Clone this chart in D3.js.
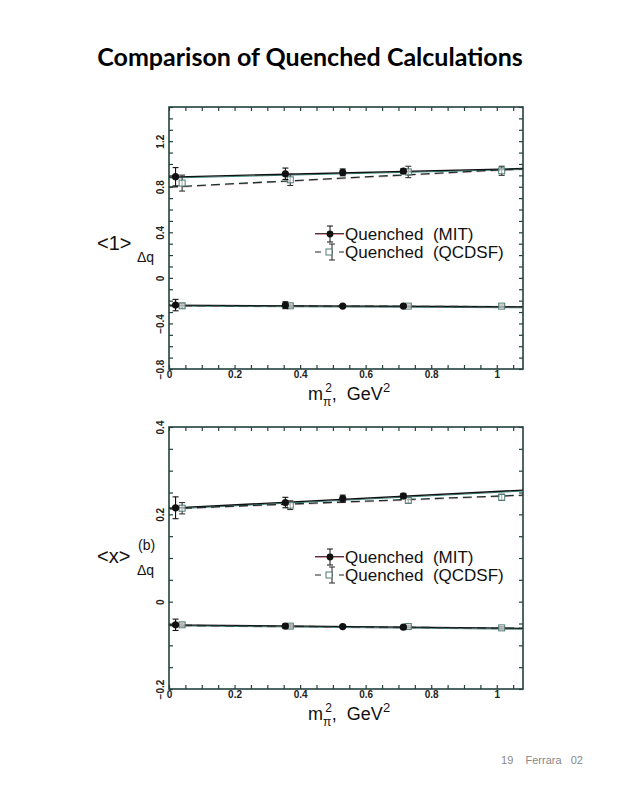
<!DOCTYPE html>
<html>
<head>
<meta charset="utf-8">
<script src="https://cdn.jsdelivr.net/npm/d3@7"></script>
<style>
    body { margin: 0; background: #fff; }
    svg text { font-family: "Liberation Sans", Arial, sans-serif; }
</style>
</head>
<body>
<div id="page"></div>
<script>

// pion mass squared (GeV^2) of the lattice points
const massSqMIT = [0.02, 0.355, 0.53, 0.715];
const massSqQCDSF = [0.04, 0.37, 0.73, 1.015];
const fitX = [0, 1.08];

// <1>_Δq  (upper: u quark, lower: d quark)
const oneMitUpper = [0.888, 0.914, 0.926, 0.937];
const oneMitUpperErr = [0.08, 0.05, 0.03, 0.02];
const oneQcdsfUpper = [0.832, 0.861, 0.930, 0.940];
const oneQcdsfUpperErr = [0.07, 0.05, 0.05, 0.04];
const oneMitLower = [-0.239, -0.240, -0.248, -0.248];
const oneMitLowerErr = [0.05, 0.03, 0.01, 0.01];
const oneQcdsfLower = [-0.245, -0.245, -0.248, -0.248];
const oneQcdsfLowerErr = [0.02, 0.015, 0.01, 0.01];
const oneMitUpperFit = [0.885, 0.960];
const oneQcdsfUpperFit = [0.797, 0.958];
const oneMitLowerFit = [-0.240, -0.254];
const oneQcdsfLowerFit = [-0.243, -0.253];

// <x>_Δq^(b)
const xMitUpper = [0.215, 0.227, 0.236, 0.242];
const xMitUpperErr = [0.025, 0.012, 0.008, 0.006];
const xQcdsfUpper = [0.214, 0.221, 0.232, 0.239];
const xQcdsfUpperErr = [0.013, 0.010, 0.006, 0.007];
const xMitLower = [-0.053, -0.056, -0.057, -0.0585];
const xMitLowerErr = [0.013, 0.005, 0.003, 0.003];
const xQcdsfLower = [-0.053, -0.056, -0.057, -0.060];
const xQcdsfLowerErr = [0.004, 0.004, 0.003, 0.003];
const xMitUpperFit = [0.214, 0.2555];
const xQcdsfUpperFit = [0.213, 0.244];
const xMitLowerFit = [-0.053, -0.061];
const xQcdsfLowerFit = [-0.054, -0.061];

// axis ticks
const xTicks = d3.range(0, 1.0801, 0.05);
const xTickLabels = [0, 0.2, 0.4, 0.6, 0.8, 1];
const oneYTicks = d3.range(-0.8, 1.501, 0.1);
const oneYTickLabels = [-0.8, -0.4, 0, 0.4, 0.8, 1.2];
const xYTicks = d3.range(-0.2, 0.4001, 0.05);
const xYTickLabels = [-0.2, 0, 0.2, 0.4];

const legendLabels = ["Quenched  (MIT)", "Quenched  (QCDSF)"];

const frameColor = "#24423e";
const teal = "#3f8a80";
const red = "#c0505e";

let svg = d3.select("#page").append("svg")
    .attr("width", 619)
    .attr("height", 800);

// title + footer
svg.append("text")
    .attr("x", 310).attr("y", 66)
    .attr("text-anchor", "middle")
    .style("font-family", "Lato, 'Open Sans', sans-serif")
    .style("font-weight", "bold")
    .style("font-size", "25px")
    .text("Comparison of Quenched Calculations");

svg.append("text")
    .attr("x", 583).attr("y", 764)
    .attr("text-anchor", "end")
    .style("font-size", "11px")
    .style("fill", "#888")
    .attr("xml:space", "preserve")
    .text("19    Ferrara   02");


class PanelVis {

    constructor(svg, cfg){
        this.svg = svg;
        this.cfg = cfg;
        this.initVis();
    }

    initVis(){
        let vis = this;
        let c = vis.cfg;

        vis.left = 169; vis.right = 523;
        vis.top = c.top; vis.bottom = c.top + 262;

        vis.x = d3.scaleLinear().domain([0, 1.08]).range([vis.left, vis.right]);
        vis.y = d3.scaleLinear().domain(c.yDomain).range([vis.bottom, vis.top]);

        vis.g = vis.svg.append("g");

        let fmt = d3.format("~g");
        let labelX = d => xTickLabels.some(v => Math.abs(v - d) < 1e-6) ? fmt(d) : "";
        let labelY = d => c.yLabels.some(v => Math.abs(v - d) < 1e-6) ? fmt(+d.toFixed(3)).replace("-", "\u2212") : "";

        // bottom axis with labels
        let bx = vis.g.append("g")
            .attr("transform", `translate(0, ${vis.bottom})`)
            .call(d3.axisBottom(vis.x).tickValues(xTicks).tickSizeInner(-4).tickSizeOuter(0).tickPadding(2).tickFormat(labelX));
        bx.selectAll("text").style("font-size", "10px").style("font-weight", "bold").attr("fill", "#222");

        vis.g.append("g")
            .attr("transform", `translate(0, ${vis.top})`)
            .call(d3.axisTop(vis.x).tickValues(xTicks).tickSizeInner(-4).tickSizeOuter(0).tickFormat(""));

        let ly = vis.g.append("g")
            .attr("transform", `translate(${vis.left}, 0)`)
            .call(d3.axisLeft(vis.y).tickValues(c.yTicks).tickSizeInner(-4).tickSizeOuter(0).tickFormat(labelY));
        ly.selectAll("text")
            .attr("transform", "rotate(-90)")
            .attr("x", 0).attr("y", -5).attr("dy", 0)
            .attr("text-anchor", "middle")
            .style("font-size", "10px").style("font-weight", "bold").attr("fill", "#222");

        vis.g.append("g")
            .attr("transform", `translate(${vis.right}, 0)`)
            .call(d3.axisRight(vis.y).tickValues(c.yTicks).tickSizeInner(-4).tickSizeOuter(0).tickFormat(""));

        vis.g.selectAll(".domain").remove();
        vis.g.selectAll(".tick line").attr("stroke", frameColor).attr("stroke-width", 1.2);

        // frame
        vis.g.append("rect")
            .attr("x", vis.left).attr("y", vis.top)
            .attr("width", vis.right - vis.left).attr("height", vis.bottom - vis.top)
            .attr("fill", "none").attr("stroke", frameColor).attr("stroke-width", 1.6);

        // x title
        let xt = vis.g.append("text")
            .attr("x", 349).attr("y", vis.bottom + 31)
            .attr("text-anchor", "middle")
            .attr("xml:space", "preserve")
            .style("font-size", "18px").attr("fill", "#111");
        xt.append("tspan").text("m");
        xt.append("tspan").attr("dy", 6).style("font-size", "12px").text("\u03c0");
        xt.append("tspan").attr("dy", -14).attr("dx", -6).style("font-size", "12px").text("2");
        xt.append("tspan").attr("dy", 8).text(",  GeV");
        xt.append("tspan").attr("dy", -8).style("font-size", "13px").text("2");

        // y title
        vis.g.append("text")
            .attr("x", 97).attr("y", c.yTitleY)
            .style("font-size", "20px").attr("fill", "#111")
            .text(c.yTitle);
        if (c.yTitleSup) {
            vis.g.append("text").attr("x", 138).attr("y", c.yTitleY - 13)
                .style("font-size", "14px").attr("fill", "#111").text(c.yTitleSup);
        }
        vis.g.append("text").attr("x", 137).attr("y", c.yTitleY + 12)
            .style("font-size", "14px").attr("fill", "#111").text("\u0394q");

        vis.wrangleData();
    }

    wrangleData(){
        let vis = this;
        let c = vis.cfg;

        let toPts = (xs, ys, es) => xs.map((d, i) => ({x: d, y: ys[i], e: es[i]}));

        vis.mitPts = toPts(massSqMIT, c.mitUpper, c.mitUpperErr).concat(toPts(massSqMIT, c.mitLower, c.mitLowerErr));
        vis.qcdsfPts = toPts(massSqQCDSF, c.qcdsfUpper, c.qcdsfUpperErr).concat(toPts(massSqQCDSF, c.qcdsfLower, c.qcdsfLowerErr));

        let toLine = ys => fitX.map((d, i) => ({x: d, y: ys[i]}));
        vis.mitFits = [toLine(c.mitUpperFit), toLine(c.mitLowerFit)];
        vis.qcdsfFits = [toLine(c.qcdsfUpperFit), toLine(c.qcdsfLowerFit)];

        vis.updateVis();
    }

    updateVis(){
        let vis = this;
        let line = d3.line().x(d => vis.x(d.x)).y(d => vis.y(d.y));

        // fits: coloured underlay, black on top
        vis.g.selectAll(".mit-under").data(vis.mitFits).enter().append("path")
            .attr("d", line).attr("transform", "translate(0,1)")
            .attr("fill", "none").attr("stroke", teal).attr("stroke-width", 1);
        vis.g.selectAll(".mit-fit").data(vis.mitFits).enter().append("path")
            .attr("d", line).attr("fill", "none").attr("stroke", "#111").attr("stroke-width", 1.3);
        vis.g.selectAll(".qcdsf-under").data(vis.qcdsfFits).enter().append("path")
            .attr("d", line).attr("transform", "translate(0,0.8)")
            .attr("fill", "none").attr("stroke", red).attr("stroke-opacity", 0.5).attr("stroke-width", 0.8)
            .attr("stroke-dasharray", "9,5");
        vis.g.selectAll(".qcdsf-fit").data(vis.qcdsfFits).enter().append("path")
            .attr("d", line).attr("fill", "none").attr("stroke", "#18302d")
            .attr("stroke-width", 1.3).attr("stroke-dasharray", "9,5");

        vis.drawErr(vis.qcdsfPts, "#333");
        vis.g.selectAll(".sq").data(vis.qcdsfPts).enter().append("rect")
            .attr("x", d => vis.x(d.x) - 3).attr("y", d => vis.y(d.y) - 3)
            .attr("width", 6).attr("height", 6)
            .attr("fill", "#fff").attr("fill-opacity", 0.6).attr("stroke", "#4f7a74").attr("stroke-width", 1);

        vis.drawErr(vis.mitPts, "#111");
        vis.g.selectAll(".dot").data(vis.mitPts).enter().append("circle")
            .attr("cx", d => vis.x(d.x)).attr("cy", d => vis.y(d.y))
            .attr("r", 3.6).attr("fill", "#111");

        // legend
        let lx = 314, ly = vis.cfg.legendY;
        let lg = vis.g.append("g");
        lg.append("line").attr("x1", lx + 1).attr("x2", lx + 30).attr("y1", ly).attr("y2", ly)
            .attr("stroke", red).attr("stroke-width", 1.2);
        lg.append("line").attr("x1", lx + 1).attr("x2", lx + 30).attr("y1", ly - 0.5).attr("y2", ly - 0.5)
            .attr("stroke", "#222").attr("stroke-width", 0.8);
        lg.append("line").attr("x1", lx + 16).attr("x2", lx + 16).attr("y1", ly - 8).attr("y2", ly + 8).attr("stroke", "#111");
        lg.append("line").attr("x1", lx + 13).attr("x2", lx + 19).attr("y1", ly - 8).attr("y2", ly - 8).attr("stroke", "#111");
        lg.append("line").attr("x1", lx + 13).attr("x2", lx + 19).attr("y1", ly + 8).attr("y2", ly + 8).attr("stroke", "#111");
        lg.append("circle").attr("cx", lx + 16).attr("cy", ly).attr("r", 3.4).attr("fill", "#111");

        let ly2 = ly + 18;
        lg.append("line").attr("x1", lx + 1).attr("x2", lx + 30).attr("y1", ly2).attr("y2", ly2)
            .attr("stroke", "#222").attr("stroke-width", 1.2).attr("stroke-dasharray", "6,6");
        lg.append("line").attr("x1", lx + 18).attr("x2", lx + 18).attr("y1", ly2 - 8).attr("y2", ly2 + 8).attr("stroke", "#222");
        lg.append("line").attr("x1", lx + 15).attr("x2", lx + 21).attr("y1", ly2 - 8).attr("y2", ly2 - 8).attr("stroke", "#222");
        lg.append("line").attr("x1", lx + 15).attr("x2", lx + 21).attr("y1", ly2 + 8).attr("y2", ly2 + 8).attr("stroke", "#222");
        lg.append("rect").attr("x", lx + 12).attr("y", ly2 - 3).attr("width", 6).attr("height", 6)
            .attr("fill", "#fff").attr("stroke", "#4f7a74");

        lg.selectAll(".ltext").data(legendLabels).enter().append("text")
            .attr("x", lx + 31).attr("y", (d, i) => ly + 6 + i * 18)
            .attr("xml:space", "preserve")
            .style("font-size", "17px").attr("fill", "#111")
            .text(d => d);
    }

    drawErr(pts, col){
        let vis = this;
        let eg = vis.g.append("g").attr("stroke", col).attr("stroke-width", 1.1);
        pts.forEach(d => {
            let cx = vis.x(d.x), y0 = vis.y(d.y - d.e), y1 = vis.y(d.y + d.e);
            eg.append("line").attr("x1", cx).attr("x2", cx).attr("y1", y0).attr("y2", y1);
            eg.append("line").attr("x1", cx - 3).attr("x2", cx + 3).attr("y1", y0).attr("y2", y0);
            eg.append("line").attr("x1", cx - 3).attr("x2", cx + 3).attr("y1", y1).attr("y2", y1);
        });
    }
}

new PanelVis(svg, {
    top: 107, yDomain: [-0.8, 1.5], yTicks: oneYTicks, yLabels: oneYTickLabels,
    yTitle: "<1>", yTitleSup: null, yTitleY: 250, legendY: 234,
    mitUpper: oneMitUpper, mitUpperErr: oneMitUpperErr, mitLower: oneMitLower, mitLowerErr: oneMitLowerErr,
    qcdsfUpper: oneQcdsfUpper, qcdsfUpperErr: oneQcdsfUpperErr, qcdsfLower: oneQcdsfLower, qcdsfLowerErr: oneQcdsfLowerErr,
    mitUpperFit: oneMitUpperFit, mitLowerFit: oneMitLowerFit, qcdsfUpperFit: oneQcdsfUpperFit, qcdsfLowerFit: oneQcdsfLowerFit
});

new PanelVis(svg, {
    top: 427, yDomain: [-0.2, 0.4], yTicks: xYTicks, yLabels: xYTickLabels,
    yTitle: "<x>", yTitleSup: "(b)", yTitleY: 563, legendY: 557,
    mitUpper: xMitUpper, mitUpperErr: xMitUpperErr, mitLower: xMitLower, mitLowerErr: xMitLowerErr,
    qcdsfUpper: xQcdsfUpper, qcdsfUpperErr: xQcdsfUpperErr, qcdsfLower: xQcdsfLower, qcdsfLowerErr: xQcdsfLowerErr,
    mitUpperFit: xMitUpperFit, mitLowerFit: xMitLowerFit, qcdsfUpperFit: xQcdsfUpperFit, qcdsfLowerFit: xQcdsfLowerFit
});

</script>
</body>
</html>
